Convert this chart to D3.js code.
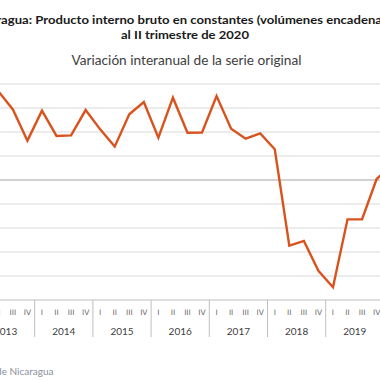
<!DOCTYPE html>
<html>
<head>
<meta charset="utf-8">
<script src="https://cdn.jsdelivr.net/npm/d3@7"></script>
<style>
  html, body { margin: 0; padding: 0; background: #ffffff; }
  svg { display: block; overflow: hidden; }
</style>
</head>
<body>
<svg id="chart" width="380" height="380"></svg>
<script>
// ---- data ----
const years = ["2013", "2014", "2015", "2016", "2017", "2018", "2019", "2020"];
const quarters = ["I", "II", "III", "IV"];
const values = [
  5.0, 7.4, 5.88, 3.28,     // 2013
  5.78, 3.67, 3.72, 5.83,   // 2014
  4.22, 2.78, 5.47, 6.5,    // 2015
  3.53, 6.86, 3.94, 3.96,   // 2016
  7.0, 4.28, 3.44, 3.89,    // 2017
  2.56, -5.47, -5.08, -7.56,// 2018
  -8.94, -3.28, -3.27, 0.08,// 2019
  1.2, -7.0                 // 2020
];
const yTicks = [-10, -8, -6, -4, -2, 0, 2, 4, 6, 8];
const titleLine1 = "Nicaragua: Producto interno bruto en constantes (volúmenes encadenados)";
const titleLine2 = "al II trimestre de 2020";
const subtitle = "Variación interanual de la serie original";
const source = "Fuente: Banco Central de Nicaragua";

// build category table
const points = values.map((v, i) => ({
  key: years[Math.floor(i / 4)] + "-" + quarters[i % 4],
  year: years[Math.floor(i / 4)],
  q: quarters[i % 4],
  value: v
}));

const svg = d3.select("#chart");
const qW = 14.55;
const x0 = -23.5;
const x = d3.scaleBand()
  .domain(points.map(d => d.key))
  .range([x0, x0 + points.length * qW])
  .padding(0);
const y = d3.scaleLinear().domain([-10, 8]).range([300, 84]);

// gridlines
svg.append("g").selectAll("line")
  .data(yTicks)
  .join("line")
  .attr("x1", x0).attr("x2", x0 + points.length * qW)
  .attr("y1", d => y(d)).attr("y2", d => y(d))
  .attr("stroke", d => d === 0 ? "#a6a6a6" : (d === -10 ? "#bfbfbf" : "#d9d9d9"))
  .attr("stroke-width", 1.2);

// quarter labels
svg.append("g").selectAll("text")
  .data(points)
  .join("text")
  .attr("x", d => x(d.key) + x.bandwidth() / 2)
  .attr("y", 315)
  .attr("text-anchor", "middle")
  .attr("font-family", "'DejaVu Sans', sans-serif")
  .attr("font-size", 7.5)
  .attr("fill", "#666666")
  .text(d => d.q);

// year separators and labels
const yearFirst = years.map(yr => points.find(p => p.year === yr));
const yearLast = years.map(yr => points.filter(p => p.year === yr).slice(-1)[0]);
const sepXs = yearFirst.map(p => x(p.key)).concat([x(yearLast[yearLast.length - 1].key) + x.bandwidth()]);
svg.append("g").selectAll("line")
  .data(sepXs)
  .join("line")
  .attr("x1", d => d).attr("x2", d => d)
  .attr("y1", 300).attr("y2", 337)
  .attr("stroke", "#bfbfbf").attr("stroke-width", 1);

svg.append("g").selectAll("text")
  .data(years)
  .join("text")
  .attr("x", (yr, i) => (x(yearFirst[i].key) + x(yearLast[i].key) + x.bandwidth()) / 2)
  .attr("y", 335)
  .attr("text-anchor", "middle")
  .attr("font-family", "Lato, sans-serif")
  .attr("font-size", 10)
  .attr("fill", "#404040")
  .text(d => d);

// line
const line = d3.line()
  .x(d => x(d.key) + x.bandwidth() / 2)
  .y(d => y(d.value));
svg.append("path")
  .datum(points)
  .attr("d", line)
  .attr("fill", "none")
  .attr("stroke", "#D9531E")
  .attr("stroke-width", 2.4)
  .attr("stroke-linejoin", "miter");

// titles
svg.append("text")
  .attr("x", 188).attr("y", 23.5)
  .attr("text-anchor", "middle")
  .attr("font-family", "Lato, sans-serif")
  .attr("font-weight", "bold")
  .attr("font-size", 11.5)
  .attr("fill", "#1a1a1a")
  .attr("textLength", 436)
  .attr("lengthAdjust", "spacingAndGlyphs")
  .text(titleLine1);
svg.append("text")
  .attr("x", 185).attr("y", 38.5)
  .attr("text-anchor", "middle")
  .attr("font-family", "Lato, sans-serif")
  .attr("font-weight", "bold")
  .attr("font-size", 11.5)
  .attr("fill", "#1a1a1a")
  .attr("textLength", 128)
  .attr("lengthAdjust", "spacingAndGlyphs")
  .text(titleLine2);
svg.append("text")
  .attr("x", 186.5).attr("y", 64.5)
  .attr("text-anchor", "middle")
  .attr("font-family", "Lato, sans-serif")
  .attr("font-size", 12.5)
  .attr("fill", "#404040")
  .attr("textLength", 230)
  .attr("lengthAdjust", "spacingAndGlyphs")
  .text(subtitle);

// source
svg.append("text")
  .attr("x", 53.5).attr("y", 375)
  .attr("text-anchor", "end")
  .attr("font-family", "Lato, sans-serif")
  .attr("font-size", 10)
  .attr("fill", "#8a8fa0")
  .text(source);
</script>
</body>
</html>
